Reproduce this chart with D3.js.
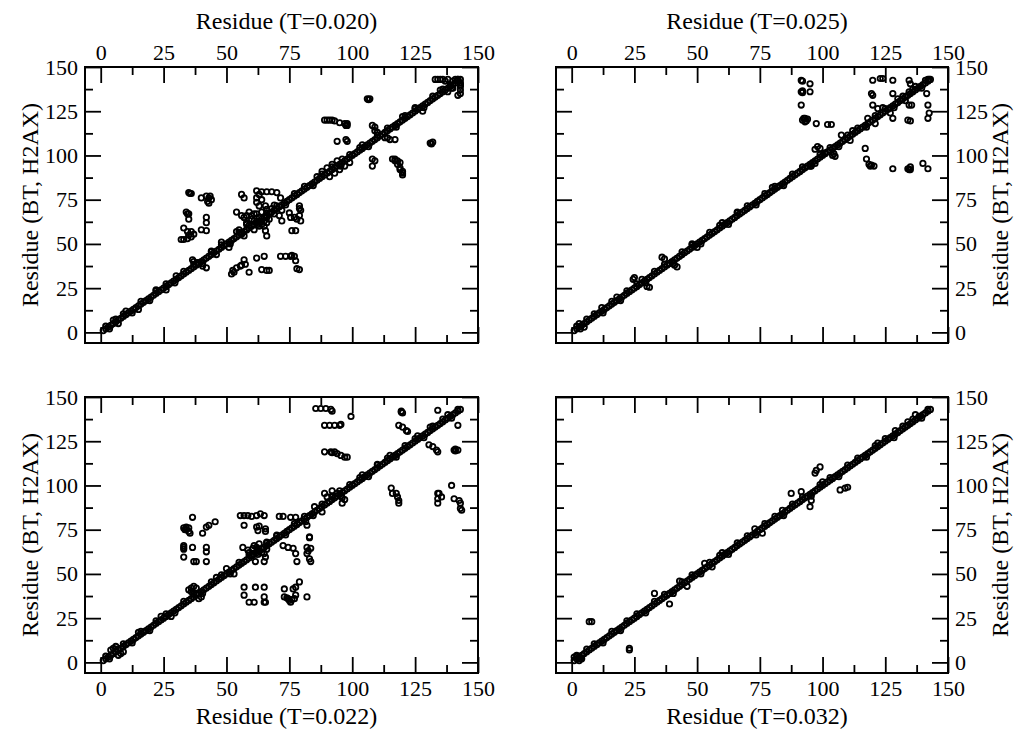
<!DOCTYPE html>
<html>
<head>
<meta charset="utf-8">
<script src="https://cdn.jsdelivr.net/npm/d3@7"></script>
<style>
  html, body { margin: 0; padding: 0; background: #fff; }
  svg { display: block; }
  .tick text { font-family: "Liberation Serif", "Times New Roman", serif; font-size: 22px; fill: #000; }
  .title { font-family: "Liberation Serif", "Times New Roman", serif; font-size: 24px; fill: #000; }
</style>
</head>
<body>
<svg id="chart" width="1021" height="733"></svg>
<script>
// Residue numbering shared by all four maps (self-contacts on the diagonal)
const residues = [
  1,2,3,4,5,6,7,8,9,10,11,12,13,14,15,16,17,18,19,20,
  21,22,23,24,25,26,27,28,29,30,31,32,33,34,35,36,37,38,39,40,
  41,42,43,44,45,46,47,48,49,50,51,52,53,54,55,56,57,58,59,60,
  61,62,63,64,65,66,67,68,69,70,71,72,73,74,75,76,77,78,79,80,
  81,82,83,84,85,86,87,88,89,90,91,92,93,94,95,96,97,98,99,100,
  101,102,103,104,105,106,107,108,109,110,111,112,113,114,115,116,117,118,119,120,
  121,122,123,124,125,126,127,128,129,130,131,132,133,134,135,136,137,138,139,140,
  141,142,143
];

// Axis tick values
const majorTicks = [0, 25, 50, 75, 100, 125, 150];
const minorTicks = [12.5, 37.5, 62.5, 87.5, 112.5, 137.5];

// Near-neighbour contacts along the chain, present at every threshold
const chainContacts = [
  [2,3.5],[3.5,2],[6,7.5],[9,10.5],[12.5,11],[16,17.5],[19.5,18],[22,23.5],[26,27.5],[29.5,28],
  [33,34.5],[37,38.5],[40.5,39],[44,45.5],[48,49.5],[51.5,50],[55,56.5],[59,60.5],[62.5,61],
  [66,67.5],[70,71.5],[73.5,72],[77,78.5],[81,82.5],[84.5,83],[88,89.5],[92,93.5],[95.5,94],
  [99,100.5],[103,104.5],[106.5,105],[110,111.5],[114,115.5],[117.5,116],[121,122.5],[125,126.5],
  [128.5,127],[132,133.5],[136,137.5],[139.5,138],[142,143]
];

// Contact pairs [residue (T), residue (BT, H2AX)] for each threshold
const contactsT020 = [
  [133,143],[134,143],[135,143],[136,143],[138,143],[140,142],[142,143],[143,141],[143,139],[143,137],[143,135],[142,134],
  [137,142],[141,143],[143,140],[139,139.5],[140,138],
  [106,132],[107,132],[106.5,131.5],
  [89,120],[90,120],[91,120],[92,120],[93,119.5],[95,118.5],[97,118],[98,117],[98,118],[97.5,117],
  [94,108],[97.5,109],[98,108],
  [108,117],[109,116],[109,114],[114,110],[115,109],[117,109],
  [131,107],[132,107.5],[131.5,106.5],
  [116,98],[117,98],[118,97],[118,95],[119,93],[119,92],[120,91],[120,90],[120,89],[117,97],[119,96],
  [108,98],[109,97],[108,94],
  [35,79],[35.5,78.5],[36,78.5],[40,76],[42,77],[43,76],[44,75],[43,73],[43.5,77],[42.5,74],
  [34,68],[35,67],[35,64],[34.5,67],[42,65],[42,62],
  [33,59],[34.5,57],[36,57],[37,55.5],[36,54],[32,52.5],[33,52.5],[34.5,53],[35,55],[40,58],[42,57.5],
  [54,68],[56,66],[57,65],[59,68],[60,64],[58,66],[61,67],
  [54,57],[56,55.5],[57,54.5],[55,58],[58,58],
  [56,78],[57,76],
  [62,80],[64,79.5],[66,79.5],[68,79.5],[62,76],[62,73.5],[63,71.5],[65.5,71.5],[66,69.5],[63,78],[64,75],
  [70,79],[71.5,76],
  [71,66],[72,63],[75.5,65],[76,57.5],[77.5,57.5],
  [79,71.5],[79.5,69],[79,66],[79.5,63],[75,67.5],[77,65],[78,64],[79,70],
  [65,60],[65.5,57.5],[66,54.5],
  [58,62],[60,66],[62,67],[63,60],[64,68],[66,62],[67,64],[68,70],[61,63],[64,61],[66,65],[69,67],
  [52,33],[52.5,35],[54,36.5],[55.5,37.5],[57,41],[57.5,38.5],[59,34],[53,34],[56,38],
  [62,42],[65,43],[64,35.5],[66,35],[67,35],
  [71.5,43],[73.5,43],[75.5,43],[77,43],[77.5,40.5],[78,36],[79,35.5],[76,43.5],
  [36.5,41],[38.5,39.5],[40.5,37.5],[42,36.5],[37,40],
  [5,7],[7,5],[10,12],[15,13],[22,24],[26,24],[30,32],[44,46],[46,44],[48,51],[51,48],
  [58,61],[61,58],[63,65],[65,63],[69,72],[72,69],[86,88],[90,93],[93,90],[96,98],[99,96],
  [88,91],[91,88],[92,95],[95,92],[94,97],[97,94],
  [104,106],[110,113],[113,110],[120,122],[125,127],[128,125],[135,137],[138,136]
];

const contactsT025 = [
  [91.5,142.5],[92,142],[95,140.5],[91.5,136],[92,135.5],[92,136.5],[95,136],[91.5,128.5],
  [93,121],[92,120],[93.5,119.5],[94,120.5],[92.5,121],[93,119],[97.5,118],[102,117.5],[103.5,117.5],
  [120,142.5],[123,143.5],[124,143.5],[128,142.5],[119.5,135],[120,134],[120,128.5],[122,126.5],[128,121],[128,135],
  [134.5,142.5],[135,140.5],[134.5,136],[141.5,135],[134.5,128.5],[135.5,128.5],[142,128.5],[142.5,124],[142,121],[134,120],[135,119.5],
  [117,104],[117.5,98],[118.5,95],[119.5,94.5],[120.5,94],[119,94],[128,92.5],[134,92.5],[135,93.5],[134.5,92],[135,92],[140,95.5],[142,92.5],
  [98,105],[97,103.5],[99,104],[104,100],[105,99.5],[104.5,101],[107.5,111.5],[111,108.5],[95,94],[97,95.5],[101,101.5],
  [36,42.5],[37,41.5],[42,37],[41,38],[25,31],[24.5,30],[31,25.5],[30,26],
  [3,5],[5,3],[12,14],[18,20],[28,30],[48,50],[50,48],[60,62],[66,68],[80,82],[112,114],
  [118,121],[121,118],[124,127],[127,124],[130,132],[133,131],[137,139],[141,142.5],[142.5,143]
];

const contactsT022 = [
  [85.5,143.5],[87.5,143.5],[89.5,143.5],[91.5,143],[92,142],[99.5,139],
  [89,134],[91,134],[93,134],[95,134],[95.5,134.5],
  [89,119],[91.5,119],[93,119],[92,118.5],[94,118],[95.5,117],[97,116],[98,116],
  [119.5,142],[120,141],[119.5,141.5],[118.5,134],[120,133],[121.5,131],[122,130.5],
  [134,142.5],[142,134],
  [130.5,123],[132,122],[133.5,120],[134,119],
  [140.5,120],[142,120],[141,120.5],[141,119.5],
  [139.5,100],
  [115.5,98.5],[116,95.5],[117.5,95.5],[118,93.5],[118.5,91.5],[118.5,90],
  [134,95.5],[134.5,95.5],[134,92.5],[134,90],[135.5,93.5],
  [140.5,92.5],[142.5,91.5],[143,90],[143,87],[143.5,86],
  [89,95.5],[90,93.5],[94,95.5],[96,90],[92,94],[95,97],[96,93],
  [36.5,82],[33,76],[34,75],[35.5,73],[34,76.5],[33.5,75],[35,74],[35,76],[40.5,73],[42,76.5],[43,77.5],[45.5,79.5],
  [33,66],[33,64],[33,59.5],[33,65],[36.5,65],[42,65],[42,62.5],[37,57],[38,57],[42,57],
  [55.5,83],[57,83],[58.5,83],[60,82.5],[57,77.5],[62,83],[63.5,84],[65,83],[62,76.5],[62.5,74.5],[65.5,75.5],[65.5,74],[63,77],
  [71,82.5],[72.5,82.5],[75.5,82],[77.5,82],[81.5,79.5],[82,77.5],[83,71],[83,70.5],
  [56.5,65],[58.5,63.5],[60.5,64.5],[62.5,63.5],[65,61.5],[65.5,59.5],[61.5,57],[65,57],
  [59,62],[61,66],[63,67],[64,62],[66,64],[60,60.5],[62,65],
  [72.5,66],[74.5,65],[76.5,64.5],[77.5,61.5],[78,57],
  [82,65],[83.5,64.5],[82,61.5],[83,58.5],[83.5,57],[82.5,63],
  [57,42.5],[61.5,42.5],[65,42.5],[57,38],[59,34],[61,34],[65,37],[65,34],[65.5,34],
  [73,41.5],[73,37],[74.5,36],[75,35],[75.5,34],[77,36],[77.5,38],[76.5,41.5],[77.5,42.5],[79,45.5],[82,37],
  [74,36.5],[76,35.5],
  [35,41],[37,43],[40,37],[38,39],[36,42],[39,36],[36,40],[38,42],
  [5,8],[8,5],[4,7],[7,4],[6,9],[9,6],
  [15,17],[24,26],[28,26],[46,48],[50,53],[53,50],[66,68],[70,72],[85,88],[88,85],[92,97],[97,92],
  [104,106],[110,112],[115,117],[126,128],[131,133],[138,140]
];

const contactsT032 = [
  [7,23],[8,23],[23,8],[23,7],
  [33,39],[39,33],
  [87.5,95.5],[91.5,96.5],[95,88],[95.5,91.5],
  [97,107],[97.5,108.5],[99,110.5],[107,97.5],[109,98.5],[110,99],
  [73,75.5],[76,73],[53,56],[56,54],[138.5,139],[137,140],
  [1,3],[3,1],[4,2],[2,4],[43,46],[46,43],[60,62],[84,86],[100,102],[122,124],[129,131],[134,136]
];

const panels = [
  { data: contactsT020, title: "Residue (T=0.020)", x0: 85, x1: 478, y0: 67, y1: 343, xSide: "top",    ySide: "left"  },
  { data: contactsT025, title: "Residue (T=0.025)", x0: 556, x1: 948, y0: 67, y1: 343, xSide: "top",    ySide: "right" },
  { data: contactsT022, title: "Residue (T=0.022)", x0: 85, x1: 478, y0: 397, y1: 673, xSide: "bottom", ySide: "left"  },
  { data: contactsT032, title: "Residue (T=0.032)", x0: 556, x1: 948, y0: 397, y1: 673, xSide: "bottom", ySide: "right" }
];

const yTitle = "Residue (BT, H2AX)";
const svg = d3.select("#chart");

panels.forEach(p => {
  const x = d3.scaleLinear().domain([-6.25, 150]).range([p.x0, p.x1]);
  const y = d3.scaleLinear().domain([-6, 150]).range([p.y1, p.y0]);
  const g = svg.append("g");

  // ticks pointing inward on all four sides
  const addAxis = (maker, scale, pos, values, size, labelled) => {
    const ax = maker(scale).tickValues(values).tickSize(-size).tickPadding(labelled ? 7 : 0)
      .tickFormat(labelled ? d3.format("d") : () => "");
    const ag = g.append("g").attr("transform", pos).call(ax);
    ag.select(".domain").remove();
    ag.selectAll(".tick line").attr("stroke", "#000").attr("stroke-width", 1.8);
    return ag;
  };

  const xLab = { top: p.xSide === "top", bottom: p.xSide === "bottom" };
  const yLab = { left: p.ySide === "left", right: p.ySide === "right" };

  [[majorTicks, 16, true], [minorTicks, 8, false]].forEach(([vals, sz, isMajor]) => {
    addAxis(d3.axisTop, x, `translate(0,${p.y0})`, vals, sz, isMajor && xLab.top);
    addAxis(d3.axisBottom, x, `translate(0,${p.y1})`, vals, sz, isMajor && xLab.bottom);
    addAxis(d3.axisLeft, y, `translate(${p.x0},0)`, vals, sz, isMajor && yLab.left);
    addAxis(d3.axisRight, y, `translate(${p.x1},0)`, vals, sz, isMajor && yLab.right);
  });

  const marker = sel => sel.attr("r", 2.7).attr("fill", "none")
    .attr("stroke", "#000").attr("stroke-width", 1.8);

  // self-contacts along the diagonal
  g.append("g").selectAll("circle").data(residues).join("circle")
    .attr("cx", d => x(d)).attr("cy", d => y(d)).call(marker);

  // near-neighbour contacts
  g.append("g").selectAll("circle").data(chainContacts).join("circle")
    .attr("cx", d => x(d[0])).attr("cy", d => y(d[1])).call(marker);

  // pairwise contacts
  g.append("g").selectAll("circle").data(p.data).join("circle")
    .attr("cx", d => x(d[0])).attr("cy", d => y(d[1])).call(marker);

  // frame
  g.append("rect").attr("x", p.x0).attr("y", p.y0)
    .attr("width", p.x1 - p.x0).attr("height", p.y1 - p.y0)
    .attr("fill", "none").attr("stroke", "#000").attr("stroke-width", 2);

  // axis titles
  const cx = (p.x0 + p.x1) / 2 + 5;
  g.append("text").attr("class", "title").attr("text-anchor", "middle")
    .attr("x", cx).attr("y", p.xSide === "top" ? p.y0 - 38 : p.y1 + 51)
    .text(p.title);

  const cy = (p.y0 + p.y1) / 2;
  const tx = p.ySide === "left" ? 38 : 1008;
  g.append("text").attr("class", "title").attr("text-anchor", "middle")
    .attr("transform", `translate(${tx},${cy}) rotate(-90)`)
    .text(yTitle);
});
</script>
</body>
</html>
